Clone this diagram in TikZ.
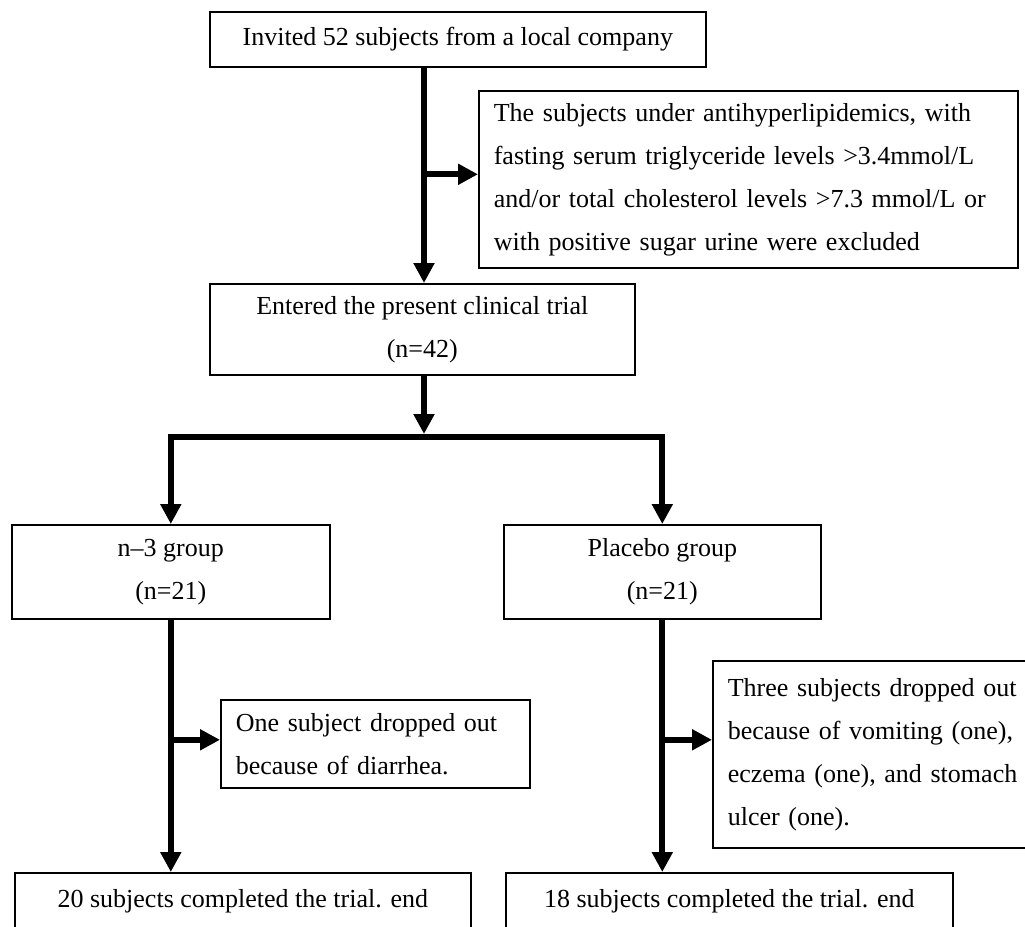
\documentclass[tikz,border=0pt]{standalone}
\usepackage{fontspec}
\setmainfont{Liberation Serif}
\usetikzlibrary{arrows.meta,positioning}

\begin{document}
\begin{tikzpicture}[x=1pt, y=-1pt,
  font=\fontsize{26pt}{43pt}\selectfont,
  box/.style={draw, line width=1.6pt, align=center, inner sep=0pt, anchor=north west},
  note/.style={draw, line width=1.6pt, align=left, inner xsep=15pt, inner ysep=0pt, anchor=north west},
  arr/.style={-{Triangle[length=20pt, width=20pt]}, line width=6pt},
  fork/.style={{Triangle[length=20pt, width=20pt]}-{Triangle[length=20pt, width=20pt]}, line width=6pt}]
\useasboundingbox (0,0) rectangle (1025,926);
\clip (0,0) rectangle (1025,926);
% boxes
\node[box, minimum width=496pt, minimum height=55pt] (invite) at (209,11) {Invited 52 subjects from a local company};
\node[note, text width=509pt, minimum height=177pt] (exclude) at (478,90) {The subjects under antihyperlipidemics, with\\ fasting serum triglyceride levels >3.4mmol/L\\ and/or total cholesterol levels >7.3 mmol/L or\\ with positive sugar urine were excluded};
\node[box, minimum width=425pt, minimum height=91pt] (entered) at (209,283) {Entered the present clinical trial\\ (n=42)};
\node[box, minimum width=318pt, minimum height=94pt] (n3) at (11,524) {n--3 group\\ (n=21)};
\node[box, minimum width=317pt, minimum height=94pt] (placebo) at (503,524) {Placebo group\\ (n=21)};
\node[note, text width=279pt, minimum height=88pt] (diarrhea) at (220,699) {One subject dropped out\\ because of diarrhea.};
\node[note, text width=300pt, minimum height=187pt] (vomit) at (712,660) {Three subjects dropped out\\ because of vomiting (one),\\ eczema (one), and stomach\\ ulcer (one).};
\node[box, minimum width=456pt, text height=18pt, text depth=60pt, inner ysep=17pt] (endA) at (14,872) {20 subjects completed the trial. end};
\node[box, minimum width=447pt, text height=18pt, text depth=60pt, inner ysep=17pt] (endB) at (505,872) {18 subjects completed the trial. end};
% connectors
\coordinate (spine) at (424,0);
\coordinate (split) at (424,437);
\coordinate (cut) at ([yshift=5pt]exclude.west);
\coordinate (lossA) at ([yshift=4pt]diarrhea.west);
\coordinate (lossB) at ([yshift=14.5pt]vomit.west);
\draw[arr] (invite.south -| spine) -- (entered.north -| spine);
\draw[arr] (spine |- cut) -- (cut);
\draw[arr] (entered.south -| spine) -- ([yshift=3pt]split);
\draw[fork] (n3.north) |- (split) -| (placebo.north);
\draw[arr] (n3.south) -- (n3.south |- endA.north);
\draw[arr] (placebo.south) -- (placebo.south |- endB.north);
\draw[arr] (n3.south |- lossA) -- (lossA);
\draw[arr] (placebo.south |- lossB) -- (lossB);
\end{tikzpicture}
\end{document}
